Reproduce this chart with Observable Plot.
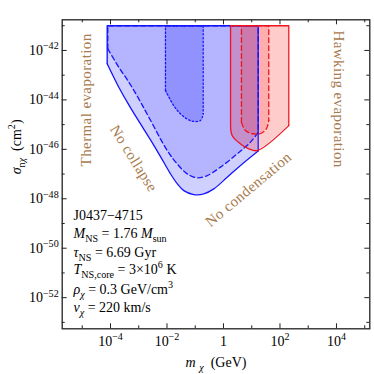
<!DOCTYPE html>
<html><head><meta charset="utf-8">
<script src="https://cdn.jsdelivr.net/npm/d3@7"></script>
<script src="https://cdn.jsdelivr.net/npm/@observablehq/plot@0.6"></script>
<style>body{margin:0;background:#fff} svg{display:block}</style>
</head><body><div id="chart"></div>
<script>
// ---- axis ticks & labels ----
const xMajorTicks = [1e-4, 1e-2, 1, 1e2, 1e4];
const xMajorLabels = ["10^{−4}", "10^{−2}", "1", "10^{2}", "10^{4}"];
const xMinorTicks = [1e-5, 1e-3, 1e-1, 1e1, 1e3, 1e5];
const yMajorTicks = [1e-42, 1e-44, 1e-46, 1e-48, 1e-50, 1e-52];
const yMajorLabels = ["10^{−42}", "10^{−44}", "10^{−46}", "10^{−48}", "10^{−50}", "10^{−52}"];
const yMinorTicks = [1e-41, 1e-43, 1e-45, 1e-47, 1e-49, 1e-51, 1e-53];
const xLabel = "~m~ _{~χ~}  (GeV)";
const yLabel = "~σ~_{n~χ~}  (cm^{2})";

// ---- regions: upper edge (cross-section ceiling) and lower boundaries ----
const sigmaTop = 1e-41;
// No collapse, solid (blue)
const blueSolidMass  = [7.64e-5, 1.97e-4, 4.45e-4, 1.0e-3, 2.61e-3, 5.89e-3, 1.33e-2, 2.30e-2, 3.94e-2, 8.87e-2, 0.201, 0.454, 1.35, 4.0, 16.9];
const blueSolidSigma = [2.88e-43, 3.24e-44, 6.3e-45, 1.38e-45, 2.4e-46, 5.1e-47, 1.02e-47, 4.07e-48, 2.14e-48, 1.48e-48, 1.58e-48, 2.51e-48, 7.41e-48, 2.24e-47, 8.6e-47];
// dashed (blue)
const blueDashMass  = [8.0e-5, 1.97e-4, 4.45e-4, 1.0e-3, 2.27e-3, 1.02e-2, 2.30e-2, 5.19e-2, 0.117, 0.265, 0.783, 3.05, 9.04, 16.9];
const blueDashSigma = [1.17e-42, 2.09e-43, 5.25e-44, 1.10e-44, 2.0e-45, 8.91e-47, 2.57e-47, 1.02e-47, 7.08e-48, 8.71e-48, 1.91e-47, 6.61e-47, 1.95e-46, 4.90e-46];
// dotted (blue)
const blueDotMass  = [8.85e-3, 1.74e-2, 3.45e-2, 7.8e-2, 0.153, 0.191];
const blueDotSigma = [2.4e-44, 5.89e-45, 2.34e-45, 1.38e-45, 1.48e-45, 2.75e-45];
// No condensation, solid (red)
const redSolidMass  = [1.78, 2.03, 4.0, 7.87, 15.6, 205];
const redSolidSigma = [1.23e-45, 3.63e-46, 1.66e-46, 1.05e-46, 8.91e-47, 9.12e-46];
// dashed (red)
const redDashMass  = [4.33, 6.0, 10.6, 20.4, 33.3, 40.1];
const redDashSigma = [1.23e-45, 5.75e-46, 4.27e-46, 4.37e-46, 6.92e-46, 1.48e-45];

// ---- annotations ----
const paramLines = [
  "J0437−4715",
  "~M~_{NS} = 1.76 ~M~_{sun}",
  "~τ~_{NS} = 6.69 Gyr",
  "~T~_{NS,core} = 3×10^{6} K",
  "~ρ~_{~χ~} = 0.3 GeV/cm^{3}",
  "~v~_{~χ~} = 220 km/s"
];
const thermalLabel = "Thermal evaporation";
const hawkingLabel = "Hawking evaporation";
const collapseLabel = "No collapse";
const condensLabel = "No condensation";

// ---- layout ----
const W = 374, H = 374;
const mL = 61.7, mT = 19.3, mR = 4.7, mB = 45.7;
const FW = W - mL - mR, FH = H - mT - mB;
const brown = "#a87b4e";
const serif = "Liberation Serif, Times New Roman, serif";

function area(ms, ss) { return ms.map((m, i) => ({m, lo: ss[i], hi: sigmaTop})); }
function lower(ms, ss) { return ms.map((m, i) => ({m, s: ss[i]})); }
function edges(ms, ss) {
  const n = ms.length - 1;
  return [{m: ms[0], s: ss[0]}, {m: ms[0], s: sigmaTop}, {m: ms[n], s: sigmaTop}, {m: ms[n], s: ss[n]}];
}

const blue = "#1414ff", red = "#f0141e";
const fills = [
  [blueSolidMass, blueSolidSigma, blue, 0.2],
  [blueDashMass, blueDashSigma, blue, 0.15],
  [blueDotMass, blueDotSigma, blue, 0.21],
  [redSolidMass, redSolidSigma, "#ff0000", 0.2],
  [redDashMass, redDashSigma, "#ff0000", 0.15]
].map(([ms, ss, c, o]) => Plot.areaY(area(ms, ss), {x: "m", y1: "lo", y2: "hi", fill: c, fillOpacity: o, curve: "catmull-rom"}));

const lines = [
  [blueSolidMass, blueSolidSigma, blue, null],
  [blueDashMass, blueDashSigma, blue, "5,3"],
  [blueDotMass, blueDotSigma, blue, "1.6,2.2"],
  [redSolidMass, redSolidSigma, red, null],
  [redDashMass, redDashSigma, red, "5,3"]
].flatMap(([ms, ss, c, d]) => [
  Plot.line(lower(ms, ss), {x: "m", y: "s", stroke: c, strokeWidth: 1.3, strokeDasharray: d, curve: "catmull-rom"}),
  Plot.line(edges(ms, ss), {x: "m", y: "s", stroke: c, strokeWidth: 1.3, strokeDasharray: d, curve: "linear", strokeLinejoin: "round"})
]);

const tickColor = "#222";
const ticks = [
  Plot.ruleX(xMajorTicks, {x: d => d, insetTop: FH - 5, stroke: tickColor}),
  Plot.ruleX(xMajorTicks, {x: d => d, insetBottom: FH - 5, stroke: tickColor}),
  Plot.ruleX(xMinorTicks, {x: d => d, insetTop: FH - 3, stroke: tickColor}),
  Plot.ruleX(xMinorTicks, {x: d => d, insetBottom: FH - 3, stroke: tickColor}),
  Plot.ruleY(yMajorTicks, {y: d => d, insetRight: FW - 5, stroke: tickColor}),
  Plot.ruleY(yMajorTicks, {y: d => d, insetLeft: FW - 5, stroke: tickColor}),
  Plot.ruleY(yMinorTicks, {y: d => d, insetRight: FW - 3, stroke: tickColor}),
  Plot.ruleY(yMinorTicks, {y: d => d, insetLeft: FW - 3, stroke: tickColor})
];

const baselines = [199.7, 218.2, 236.7, 254, 274, 292.4];
const params = paramLines.map((t, i) => Plot.text([t], {
  frameAnchor: "top-left", dx: 11.3, dy: baselines[i], text: d => d,
  textAnchor: "start", lineAnchor: "bottom", fontSize: 14, fill: "#000", className: "rich rich14"
}));

const labelStyle = {fontSize: 15, fill: brown, textAnchor: "middle", lineAnchor: "middle", className: "spaced"};

const chart = Plot.plot({
  width: W, height: H,
  marginLeft: mL, marginTop: mT, marginRight: mR, marginBottom: mB,
  style: {fontFamily: serif, background: "#fff"},
  x: {type: "log", domain: [10 ** -5.71, 10 ** 5.18], axis: null},
  y: {type: "log", domain: [10 ** -53.26, 10 ** -40.76], axis: null},
  marks: [
    ...fills,
    ...lines,
    ...ticks,
    Plot.frame({stroke: "#222", strokeWidth: 1.3}),
    Plot.text(xMajorTicks, {x: d => d, text: (d, i) => xMajorLabels[i], frameAnchor: "bottom", dy: 17, lineAnchor: "bottom", fontSize: 14, className: "rich rich14"}),
    Plot.text(yMajorTicks, {y: d => d, text: (d, i) => yMajorLabels[i], frameAnchor: "left", dx: -3.5, textAnchor: "end", lineAnchor: "middle", fontSize: 14, className: "rich rich14"}),
    Plot.text([xLabel], {text: d => d, frameAnchor: "bottom", dy: 34, lineAnchor: "middle", fontSize: 14, className: "rich rich14"}),
    Plot.text([yLabel], {text: d => d, frameAnchor: "left", dx: -46, rotate: -90, lineAnchor: "middle", fontSize: 14, className: "rich rich14"}),
    ...params,
    Plot.text([thermalLabel], {...labelStyle, text: d => d, x: () => 10 ** -4.85, y: () => 10 ** -44.0, rotate: -90}),
    Plot.text([hawkingLabel], {...labelStyle, text: d => d, x: () => 10 ** 4.07, y: () => 10 ** -43.97, rotate: 90}),
    Plot.text([collapseLabel], {...labelStyle, text: d => d, x: () => 10 ** -3.18, y: () => 10 ** -46.37, rotate: 58}),
    Plot.text([condensLabel], {...labelStyle, text: d => d, x: () => 10 ** 0.885, y: () => 10 ** -47.62, rotate: -40})
  ]
});

// rich text: ~italic~, ^{sup}, _{sub}
function parseRich(s) {
  const out = []; let mode = "n", ital = false, buf = "";
  const flush = () => { if (buf) out.push({t: buf, mode, ital}); buf = ""; };
  for (let i = 0; i < s.length; i++) {
    const c = s[i];
    if ((c === "^" || c === "_") && s[i + 1] === "{") { flush(); mode = c === "^" ? "sup" : "sub"; i++; continue; }
    if (c === "}" && mode !== "n") { flush(); mode = "n"; continue; }
    if (c === "~") { flush(); ital = !ital; continue; }
    buf += c;
  }
  flush();
  return out;
}
function applyRich(el, fs) {
  const parts = parseRich(el.textContent);
  const sel = d3.select(el);
  sel.text(null);
  let cur = 0;
  parts.forEach(p => {
    const target = p.mode === "sup" ? -0.4 * fs : p.mode === "sub" ? 0.3 * fs : 0;
    const ts = sel.append("tspan").text(p.t);
    if (p.mode !== "n") ts.attr("font-size", (0.72 * fs).toFixed(2));
    if (p.ital) ts.attr("font-style", "italic");
    if (target - cur !== 0) ts.attr("dy", (target - cur).toFixed(2));
    cur = target;
  });
}
d3.select(chart).selectAll("g.rich14 text").each(function() { applyRich(this, 14); });
d3.select(chart).selectAll("g.spaced text").style("letter-spacing", "0.4px");

document.getElementById("chart").appendChild(chart);
</script>
</body></html>
